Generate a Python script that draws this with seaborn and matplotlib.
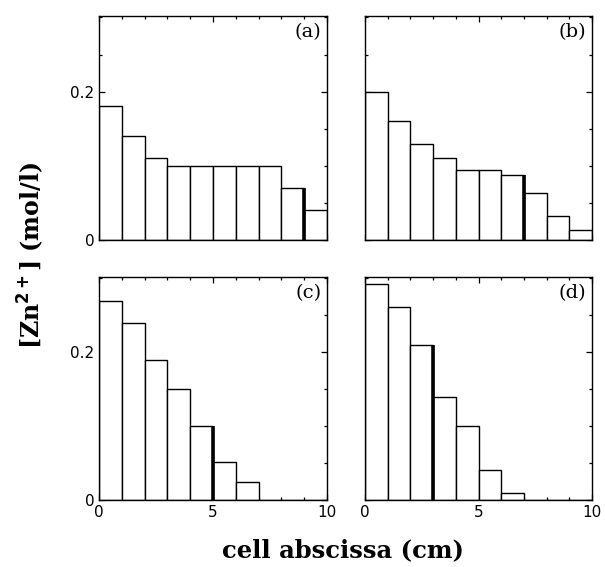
import numpy as np
import pandas as pd
import matplotlib
matplotlib.use("Agg")
import matplotlib.pyplot as plt
from matplotlib.ticker import MultipleLocator
import seaborn as sns

sns.set_theme(style="ticks")
plt.rcParams['font.family'] = ['DejaVu Sans']
plt.rcParams['text.color'] = 'black'

cell_centers = [0.5, 1.5, 2.5, 3.5, 4.5, 5.5, 6.5, 7.5, 8.5, 9.5]
panel_labels = ["(a)", "(b)", "(c)", "(d)"]
conc_a = [0.18, 0.14, 0.11, 0.10, 0.10, 0.10, 0.10, 0.10, 0.07, 0.04]
conc_b = [0.20, 0.16, 0.13, 0.11, 0.095, 0.095, 0.087, 0.063, 0.033, 0.014]
conc_c = [0.27, 0.24, 0.19, 0.15, 0.10, 0.051, 0.024, 0.0, 0.0, 0.0]
conc_d = [0.293, 0.261, 0.21, 0.14, 0.10, 0.041, 0.01, 0.0, 0.0, 0.0]
front_pos = [9, 7, 5, 3]
front_height = [0.07, 0.087, 0.10, 0.21]
series = [conc_a, conc_b, conc_c, conc_d]

fig = plt.figure(figsize=(6.05, 5.67), dpi=100)
W, H = 605, 567
boxes = [(99, 16, 327, 240), (365, 16, 592, 240),
         (99, 277, 327, 500), (365, 277, 592, 500)]
for i, (l, t, r, b) in enumerate(boxes):
    ax = fig.add_axes([l / W, 1 - b / H, (r - l) / W, (b - t) / H])
    df = pd.DataFrame({"x": cell_centers, "y": series[i]})
    sns.barplot(data=df, x="x", y="y", native_scale=True, width=1.0,
                color="white", edgecolor="black", linewidth=1.0,
                saturation=1, ax=ax, errorbar=None)
    ax.vlines(front_pos[i], 0, front_height[i], color="black", lw=2.6, zorder=5)
    ax.set_xlim(0, 10)
    ax.set_ylim(0, 0.302)
    ax.xaxis.set_major_locator(MultipleLocator(5))
    ax.xaxis.set_minor_locator(MultipleLocator(1))
    ax.yaxis.set_major_locator(MultipleLocator(0.2))
    ax.yaxis.set_minor_locator(MultipleLocator(0.05))
    ax.tick_params(which="both", direction="in", top=True, right=True,
                   labelsize=11, width=0.9, colors="black")
    ax.tick_params(which="major", length=4)
    ax.tick_params(which="minor", length=2.5)
    ax.set_xlabel("")
    ax.set_ylabel("")
    for s in ax.spines.values():
        s.set_linewidth(1.0)
        s.set_color("black")
    ax.yaxis.set_major_formatter(plt.FuncFormatter(lambda v, p: "0" if abs(v) < 1e-9 else f"{v:.1f}"))
    if i < 2:
        ax.set_xticklabels([])
    if i % 2 == 1:
        ax.set_yticklabels([])
    ax.text(0.975, 0.97, panel_labels[i], transform=ax.transAxes,
            ha="right", va="top", fontsize=14, family="DejaVu Serif", color="black")

fig.text(343 / W, 1 - 550 / H, "cell abscissa (cm)", ha="center", va="center",
         fontsize=17.5, fontweight="bold", family="DejaVu Serif", color="black")
fig.text(31 / W, 1 - 255 / H, r"[Zn$^{\mathbf{2+}}$] (mol/l)", ha="center", va="center",
         rotation=90, fontsize=17, fontweight="bold", family="DejaVu Serif", color="black")

fig.savefig("out.png", dpi=100, facecolor="white")
